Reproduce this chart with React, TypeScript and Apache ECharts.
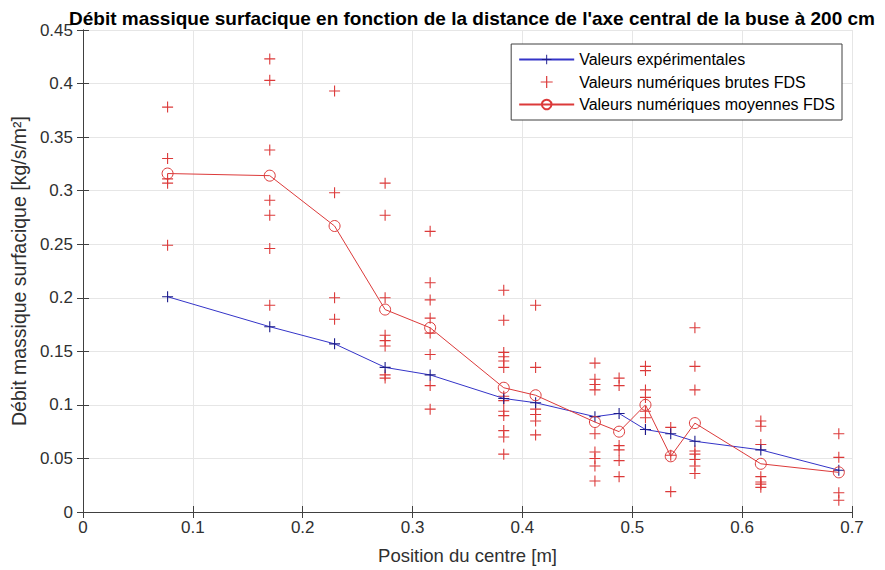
import React, { useEffect, useRef } from "react";
import * as echarts from "echarts";

const positions = [0.077, 0.17, 0.229, 0.275, 0.316, 0.383, 0.412, 0.466, 0.488, 0.512, 0.535, 0.557, 0.617, 0.688];
const experimental = [0.201, 0.173, 0.157, 0.135, 0.128, 0.106, 0.102, 0.089, 0.092, 0.077, 0.073, 0.066, 0.058, 0.039];
const meanFDS = [0.316, 0.314, 0.267, 0.189, 0.172, 0.116, 0.109, 0.084, 0.075, 0.100, 0.052, 0.083, 0.045, 0.037];
const rawFDS: number[][] = [
  [0.378, 0.330, 0.311, 0.307, 0.249],
  [0.423, 0.403, 0.338, 0.291, 0.277, 0.246, 0.193],
  [0.393, 0.298, 0.200, 0.180],
  [0.307, 0.277, 0.200, 0.165, 0.160, 0.155, 0.128, 0.125],
  [0.262, 0.214, 0.198, 0.181, 0.167, 0.147, 0.118, 0.096],
  [0.207, 0.179, 0.149, 0.145, 0.141, 0.135, 0.108, 0.104, 0.094, 0.090, 0.076, 0.070, 0.054],
  [0.193, 0.135, 0.096, 0.091, 0.085, 0.072],
  [0.139, 0.124, 0.119, 0.114, 0.073, 0.056, 0.050, 0.043, 0.029],
  [0.125, 0.118, 0.062, 0.058, 0.048, 0.033],
  [0.136, 0.132, 0.114, 0.107, 0.094, 0.088, 0.077],
  [0.079, 0.053, 0.019],
  [0.172, 0.136, 0.114, 0.057, 0.054, 0.049, 0.043, 0.036],
  [0.085, 0.080, 0.063, 0.033, 0.028, 0.026, 0.023],
  [0.073, 0.051, 0.018, 0.011],
];
const xTicks = { min: 0, max: 0.7, interval: 0.1 };
const yTicks = { min: 0, max: 0.45, interval: 0.05 };

const titleText = "Débit massique surfacique en fonction de la distance de l'axe central de la buse à 200 cm";
const xName = "Position du centre [m]";
const yName = "Débit massique surfacique [kg/s/m²]";
const names = ["Valeurs expérimentales", "Valeurs numériques brutes FDS", "Valeurs numériques moyennes FDS"];

const PLUS = "path://M4.5,0 H5.5 V4.5 H10 V5.5 H5.5 V10 H4.5 V5.5 H0 V4.5 H4.5 Z";
const BLUE = "#3434c8";
const BLUE_MARK = "#1c1c8c";
const RED = "#dc3a3a";
const FONT = "Liberation Sans";
const TXT = "#303030";

export default function App() {
  const ref = useRef<HTMLDivElement>(null);
  useEffect(() => {
    if (!ref.current) return;
    const chart = echarts.init(ref.current, undefined, { renderer: "svg" });
    const rawPoints: number[][] = [];
    rawFDS.forEach((vals, i) => vals.forEach((v) => rawPoints.push([positions[i], v])));
    const axisCommon = {
      axisLine: { show: true, lineStyle: { color: "#404040", width: 1 } },
      axisTick: { show: true, inside: true, length: 6, lineStyle: { color: "#404040" } },
    };
    chart.setOption({
      animation: false,
      backgroundColor: "#ffffff",
      textStyle: { fontFamily: FONT },
      title: {
        text: titleText,
        left: 467,
        textAlign: "center",
        top: 3,
        textStyle: { fontFamily: FONT, fontSize: 19, lineHeight: 20, fontWeight: "bold", color: "#000" },
      },
      legend: {
        orient: "vertical",
        right: 43,
        top: 44,
        padding: [7, 7, 7, 7],
        itemGap: 5.5,
        itemWidth: 55,
        itemHeight: 12,
        borderColor: "#404040",
        borderWidth: 1,
        backgroundColor: "#fff",
        textStyle: { fontFamily: FONT, fontSize: 16, lineHeight: 17, color: "#000" },
        data: names,
      },
      grid: { left: 83, right: 33, top: 30, bottom: 55, containLabel: false },
      xAxis: [
        {
          type: "value",
          ...xTicks,
          ...axisCommon,
          name: xName,
          nameLocation: "middle",
          nameGap: 34,
          nameTextStyle: { fontFamily: FONT, fontSize: 18.5, lineHeight: 19, color: TXT },
          axisLabel: { fontFamily: FONT, fontSize: 17, color: TXT, margin: 7 },
          splitLine: { show: true, lineStyle: { color: "#e6e6e6" } },
        },
        {
          type: "value",
          position: "top",
          ...xTicks,
          ...axisCommon,
          axisLabel: { show: false },
          splitLine: { show: false },
        },
      ],
      yAxis: [
        {
          type: "value",
          ...yTicks,
          ...axisCommon,
          name: yName,
          nameLocation: "middle",
          nameGap: 52,
          nameTextStyle: { fontFamily: FONT, fontSize: 19.5, color: TXT },
          axisLabel: { fontFamily: FONT, fontSize: 17, color: TXT, margin: 10 },
          splitLine: { show: true, lineStyle: { color: "#e6e6e6" } },
        },
        {
          type: "value",
          position: "right",
          ...yTicks,
          ...axisCommon,
          axisLabel: { show: false },
          splitLine: { show: false },
        },
      ],
      series: [
        {
          name: names[0],
          type: "line",
          data: positions.map((x, i) => [x, experimental[i]]),
          symbol: PLUS,
          symbolSize: 11,
          showAllSymbol: true,
          lineStyle: { color: BLUE, width: 1 },
          itemStyle: { color: BLUE_MARK },
          z: 4,
        },
        {
          name: names[1],
          type: "scatter",
          data: rawPoints,
          symbol: PLUS,
          symbolSize: 11,
          itemStyle: { color: RED, opacity: 1 },
          z: 3,
        },
        {
          name: names[2],
          type: "line",
          data: positions.map((x, i) => [x, meanFDS[i]]),
          symbol: "circle",
          symbolSize: 11,
          showAllSymbol: true,
          lineStyle: { color: RED, width: 1 },
          itemStyle: { color: "rgba(255,255,255,0)", borderColor: RED, borderWidth: 1 },
          z: 5,
        },
      ],
    });
    return () => chart.dispose();
  }, []);
  return (
    <div
      ref={ref}
      style={{ position: "fixed", left: 0, top: 0, width: 885, height: 570, overflow: "hidden" }}
    />
  );
}
